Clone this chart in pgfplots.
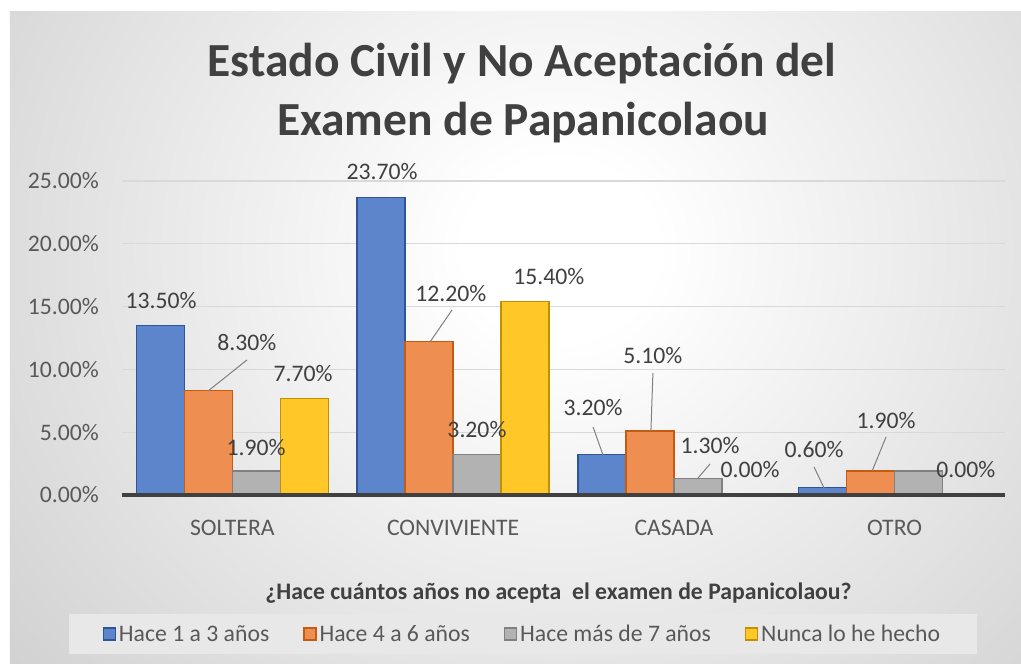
\documentclass[border=0pt]{standalone}
\usepackage{pgfplots}
\pgfplotsset{compat=1.18}
\usepackage{fontspec}
\setmainfont{Carlito}
\pgfdeclarelayer{background}
\pgfsetlayers{background,main}
\definecolor{bggray}{RGB}{198,198,198}
\definecolor{gridgray}{RGB}{217,217,217}
\definecolor{labgray}{RGB}{89,89,89}
\definecolor{dgray}{RGB}{64,64,64}
\definecolor{legfill}{RGB}{232,232,232}
\definecolor{bluef}{RGB}{93,133,203}
\definecolor{blued}{RGB}{47,85,151}
\definecolor{orangef}{RGB}{238,142,80}
\definecolor{oranged}{RGB}{197,90,17}
\definecolor{grayf}{RGB}{178,178,178}
\definecolor{grayd}{RGB}{128,128,128}
\definecolor{yellowf}{RGB}{255,200,40}
\definecolor{yellowd}{RGB}{191,144,0}
\pgfdeclareradialshading{bgshade}{\pgfpoint{0bp}{0bp}}{color(0bp)=(white); color(4bp)=(white); color(36bp)=(bggray); color(50bp)=(bggray)}
\pgfplotsset{sq/.style={legend image code/.code={\draw[##1, line width=1.3bp] (0bp,-6bp) rectangle (12bp,6bp);}}}
\begin{document}
\begin{tikzpicture}[
  lab/.style={font=\fontsize{23.7bp}{28bp}\selectfont, text=dgray, inner sep=0pt},
  leader/.style={draw=grayd, line width=1bp}]
\begin{axis}[
  scale only axis, width=883bp, height=314bp,
  xmin=-0.5, xmax=3.5, ymin=0, ymax=25,
  clip=false,
  axis line style={draw=none},
  major tick length=0pt,
  ymajorgrids, grid style={color=gridgray, line width=1.3bp},
  ytick={0,5,10,15,20,25},
  yticklabel={\pgfmathprintnumber[fixed,fixed zerofill,precision=2]{\tick}\%},
  xtick={0,1,2,3},
  xticklabels={SOLTERA,CONVIVIENTE,CASADA,OTRO},
  ticklabel style={font=\fontsize{23.7bp}{28bp}\selectfont, text=labgray},
  yticklabel style={inner sep=0pt, xshift=-23bp},
  xticklabel style={inner sep=0pt, yshift=-25bp},
  /pgf/number format/assume math mode=true,
  ybar=0pt, bar width=0.2174,
  legend columns=4,
  legend cell align=left,
  legend style={at={(0.454,-0.4427)}, anchor=center, fill=legfill, draw=none,
    font=\fontsize{23.7bp}{28bp}\selectfont, text=labgray,
    inner xsep=34bp, inner ysep=9bp,
    nodes={inner xsep=3bp},
    /tikz/every even column/.append style={column sep=31bp}},
]
\addplot[sq, fill=bluef, draw=blued, line width=1.3bp, bar shift=-0.3261] coordinates {(0,13.5) (1,23.7) (2,3.2) (3,0.6)};
\addlegendentry{Hace 1 a 3 años}
\addplot[sq, fill=orangef, draw=oranged, line width=1.3bp, bar shift=-0.1087] coordinates {(0,8.3) (1,12.2) (2,5.1) (3,1.9)};
\addlegendentry{Hace 4 a 6 años}
\addplot[sq, fill=grayf, draw=grayd, line width=1.3bp, bar shift=0.1087] coordinates {(0,1.9) (1,3.2) (2,1.3) (3,1.9)};
\addlegendentry{Hace más de 7 años}
\addplot[sq, fill=yellowf, draw=yellowd, line width=1.3bp, bar shift=0.3261] coordinates {(0,7.7) (1,15.4) (2,0) (3,0)};
\addlegendentry{Nunca lo he hecho}
\coordinate (O) at (axis cs:-0.5,0);
\draw[dgray, line width=3.5bp] (axis cs:-0.5,0) -- (axis cs:3.5,0);
% data labels
\node[lab] at (axis cs:-0.323,15.45) {13.50\%};
\node[lab] at (axis cs:0.066,12.18) {8.30\%};
\draw[leader] (axis cs:0.066,10.75) -- (axis cs:-0.110,8.28);
\node[lab] at (axis cs:0.320,9.71) {7.70\%};
\node[lab] at (axis cs:0.107,3.82) {1.90\%};
\node[lab] at (axis cs:0.678,25.72) {23.70\%};
\node[lab] at (axis cs:0.990,16.08) {12.20\%};
\draw[leader] (axis cs:0.995,14.73) -- (axis cs:0.895,12.18);
\node[lab] at (axis cs:1.108,5.18) {3.20\%};
\node[lab] at (axis cs:1.434,17.36) {15.40\%};
\node[lab] at (axis cs:1.634,6.93) {3.20\%};
\draw[leader] (axis cs:1.634,5.41) -- (axis cs:1.679,3.18);
\node[lab] at (axis cs:1.905,11.07) {5.10\%};
\draw[leader] (axis cs:1.905,9.71) -- (axis cs:1.896,5.10);
\node[lab] at (axis cs:2.164,3.90) {1.30\%};
\draw[leader] (axis cs:2.164,2.47) -- (axis cs:2.109,1.35);
\node[lab] at (axis cs:2.345,1.99) {0.00\%};
\node[lab] at (axis cs:2.635,3.66) {0.60\%};
\draw[leader] (axis cs:2.635,2.23) -- (axis cs:2.680,0.56);
\node[lab] at (axis cs:2.961,5.97) {1.90\%};
\draw[leader] (axis cs:2.961,4.62) -- (axis cs:2.898,1.91);
\node[lab] at (axis cs:3.323,1.99) {0.00\%};
\end{axis}
\begin{scope}[shift={(O)}, x=1bp, y=1bp]
\begin{pgfonlayer}{background}
\fill[white] (-122,495) rectangle (899,-169);
\begin{scope}
\clip (-112,483) rectangle (899,-169);
\fill[bggray] (-112,483) rectangle (899,-169);
\shade[shading=bgshade] (-162,805) rectangle (1038,-315);
\end{scope}
\end{pgfonlayer}
\node[anchor=base, font=\bfseries\fontsize{47.5bp}{57bp}\selectfont, text=dgray] at (400,418) {Estado Civil y No Aceptación del};
\node[anchor=base, font=\bfseries\fontsize{47.5bp}{57bp}\selectfont, text=dgray] at (401,359) {Examen de Papanicolaou};
\node[anchor=base, font=\bfseries\fontsize{23.7bp}{28bp}\selectfont, text=dgray] at (436.5,-105) {¿Hace cuántos años no acepta\ \ el examen de Papanicolaou?};
\end{scope}
\end{tikzpicture}
\end{document}
